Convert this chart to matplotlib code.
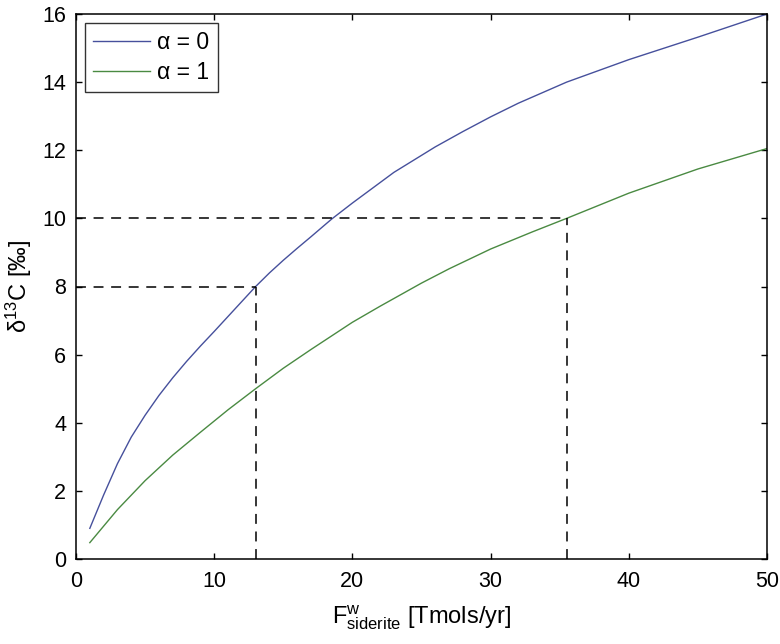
import matplotlib
matplotlib.use("Agg")
import matplotlib.pyplot as plt

plt.rcParams['font.family'] = ['Liberation Sans', 'DejaVu Sans']
plt.rcParams['mathtext.default'] = 'regular'
plt.rcParams['mathtext.fontset'] = 'custom'
plt.rcParams['mathtext.rm'] = 'Liberation Sans'
plt.rcParams['mathtext.it'] = 'Liberation Sans'

# alpha = 0 curve
x_a0 = [1, 2, 3, 4, 5, 6, 7, 8, 9, 10, 11, 12, 13, 14, 15, 16, 17, 18.5, 20,
        23, 26, 28, 30, 32, 35.5, 40, 45, 50]
y_a0 = [0.9, 1.88, 2.8, 3.58, 4.22, 4.8, 5.32, 5.8, 6.25, 6.68, 7.12, 7.56, 8.0,
        8.4, 8.77, 9.12, 9.46, 9.98, 10.45, 11.35, 12.1, 12.55, 12.98, 13.38,
        14.0, 14.66, 15.32, 16.0]

# alpha = 1 curve
x_a1 = [1, 3, 5, 7, 9, 11, 13, 15, 17, 20, 22, 25, 27, 30, 33, 35.5, 40, 45, 50]
y_a1 = [0.48, 1.45, 2.3, 3.05, 3.72, 4.38, 5.0, 5.6, 6.15, 6.95, 7.42, 8.1,
        8.52, 9.1, 9.6, 10.0, 10.74, 11.45, 12.05]

labels = ['α = 0', 'α = 1']

# guide lines (x at which each curve reaches the target value)
guide_x = [13, 35.5]
guide_y = [8, 10]

xticks = [0, 10, 20, 30, 40, 50]
yticks = [0, 2, 4, 6, 8, 10, 12, 14, 16]

fig = plt.figure(figsize=(7.8, 6.44), dpi=100)
ax = fig.add_axes([76/780, 1 - 559/644, (767 - 76)/780, (559 - 14)/644])

ax.plot(x_a0, y_a0, color='#46509c', lw=1.0, label=labels[0])
ax.plot(x_a1, y_a1, color='#4a8a42', lw=1.0, label=labels[1])

for gx, gy in zip(guide_x, guide_y):
    ax.plot([0, gx], [gy, gy], color='black', lw=1.1, dashes=[6.5, 5])
    ax.plot([gx, gx], [0, gy], color='black', lw=1.1, dashes=[6.5, 5])

ax.set_xlim(0, 50)
ax.set_ylim(0, 16)
ax.set_xticks(xticks)
ax.set_yticks(yticks)
ax.tick_params(direction='in', length=4.5, width=1, top=True, right=True,
               labelsize=15.5)
ax.tick_params(axis='x', pad=8.5)
ax.tick_params(axis='y', pad=7)
for s in ax.spines.values():
    s.set_linewidth(1.1)

ax.set_xlabel(r'$F^{w}_{siderite}$ [Tmols/yr]', fontsize=17, labelpad=8)
ax.set_ylabel(r'δ$^{13}$C [‰]', fontsize=17, labelpad=6)

leg = ax.legend(loc='upper left', fontsize=16.5, frameon=True, fancybox=False,
                edgecolor='black', handlelength=2.5, borderaxespad=0.4,
                labelspacing=0.3, handletextpad=0.3, borderpad=0.35)
leg.get_frame().set_linewidth(1.0)

fig.savefig('out.png', dpi=100)
